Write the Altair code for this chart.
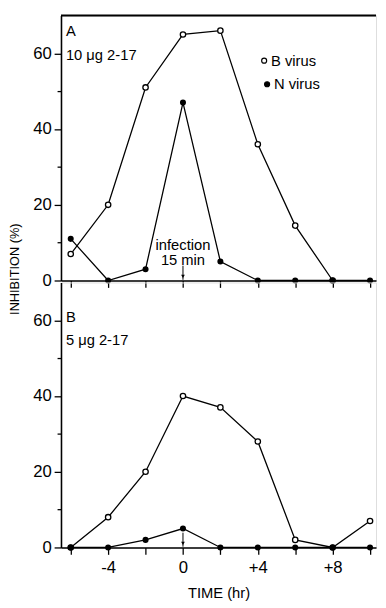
import altair as alt
import pandas as pd

# ---- data ----
time_hr = [-6, -4, -2, 0, 2, 4, 6, 8, 10]
a_b_virus = [7, 20, 51, 65, 66, 36, 14.5, 0, None]
a_n_virus = [11, 0, 3, 47, 5, 0, 0, 0, 0]
b_b_virus = [0, 8, 20, 40, 37, 28, 2, 0, 7]
b_n_virus = [0, 0, 2, 5, 0, 0, 0, 0, 0]
x_ticks = [-6, -4, -2, 0, 2, 4, 6, 8, 10]
y_ticks = [0, 10, 20, 30, 40, 50, 60]
panel_labels = ["A", "B"]
dose_labels = ["10 \u03bcg 2-17", "5 \u03bcg 2-17"]
legend_labels = ["B virus", "N virus"]
infection_text = ["infection", "15 min"]
infection_text_y = [9.3, 5.4]
arrow_a = [3.9, 0.2]
arrow_b = [3.9, 0.2]

FONT = "Liberation Sans"
W, H = 321, 270
XDOM = [-6.52, 10.32]
YDOM = [0, 70]


def make_panel(b_vals, n_vals, plabel, dose, label_y, arrow, is_bottom, legend, infection):
    rows = []
    for t, v in zip(time_hr, b_vals):
        if v is not None:
            rows.append({"t": t, "v": v, "s": "B virus"})
    for t, v in zip(time_hr, n_vals):
        rows.append({"t": t, "v": v, "s": "N virus"})
    df = pd.DataFrame(rows)

    tick_size = {"condition": {"test": "datum.value % 20 === 0", "value": 7}, "value": 4}
    yaxis = alt.Axis(
        values=y_ticks,
        labelExpr="datum.value % 20 === 0 ? datum.label : ''",
        tickSize=tick_size,
        tickColor="black", domainColor="black", domainWidth=1.6, tickWidth=1.3,
        labelFont=FONT, labelFontSize=17, labelColor="black", labelPadding=3,
        grid=False,
        title="INHIBITION (%)" if not is_bottom else None,
        titleFont=FONT, titleFontSize=13, titleFontWeight="normal", titleColor="black",
        titleY=258, titlePadding=11,
    )
    if is_bottom:
        xaxis = alt.Axis(
            values=x_ticks,
            labelExpr="datum.value % 4 === 0 ? (datum.value > 0 ? '+' + datum.value : '' + datum.value) : ''",
            tickSize=7, tickColor="black", domainColor="black", domainWidth=1.6, tickWidth=1.3,
            labelFont=FONT, labelFontSize=17, labelColor="black", labelPadding=6,
            grid=False, title="TIME (hr)", titleFont=FONT, titleFontSize=15,
            titleFontWeight="normal", titleColor="black", titlePadding=10,
        )
    else:
        xaxis = alt.Axis(
            values=x_ticks, labels=False, tickSize=7, tickColor="black",
            domainColor="black", domainWidth=1.6, tickWidth=1.3, grid=False, title=None,
        )

    X = alt.X("t:Q", scale=alt.Scale(domain=XDOM, nice=False, zero=False), axis=xaxis)
    Y = alt.Y("v:Q", scale=alt.Scale(domain=YDOM, nice=False), axis=yaxis)

    base = alt.Chart(df)
    lines = base.mark_line(color="black", strokeWidth=1.3).encode(x=X, y=Y, detail="s:N")
    openpts = base.transform_filter(alt.datum.s == "B virus").mark_point(
        shape="circle", size=30, filled=True, fill="white", stroke="black", strokeWidth=1.3, opacity=1
    ).encode(x=X, y=Y)
    fillpts = base.transform_filter(alt.datum.s == "N virus").mark_point(
        shape="circle", size=38, filled=True, color="black", opacity=1
    ).encode(x=X, y=Y)

    adf = pd.DataFrame({"t": [0], "v": [arrow[0]], "v2": [arrow[1]]})
    arrow_line = alt.Chart(adf).mark_rule(color="black", strokeWidth=1).encode(
        x=X, y=Y, y2="v2:Q")
    hdf = pd.DataFrame({"t": [0], "v": [arrow[1] + 0.9]})
    arrow_head = alt.Chart(hdf).mark_point(
        shape="triangle-down", size=14, filled=True, color="black", opacity=1
    ).encode(x=X, y=Y)

    ldf = pd.DataFrame({"txt": [plabel, dose], "py": label_y})
    labels = alt.Chart(ldf).mark_text(
        align="left", baseline="alphabetic", font=FONT, fontSize=15, color="black"
    ).encode(x=alt.value(5), y=alt.Y("py:Q", scale=None), text="txt:N")

    layers = [lines, arrow_line, arrow_head, openpts, fillpts, labels]

    if not is_bottom:
        frame = alt.Chart(pd.DataFrame({"a": [0]})).mark_rule(color="black", strokeWidth=2).encode(
            x=alt.value(0), x2=alt.value(W), y=alt.value(0))
        layers.append(frame)

    if legend:
        lgdf = pd.DataFrame({"txt": legend_labels, "py": [46, 70], "px": [207, 210],
                             "f": ["white", "black"]})
        lg_pts = alt.Chart(lgdf).mark_point(
            shape="circle", size=26, filled=True, stroke="black", strokeWidth=1.2, opacity=1
        ).encode(x=alt.X("px:Q", scale=None), y=alt.Y("py:Q", scale=None),
                 fill=alt.Fill("f:N", scale=None))
        lg_txt = alt.Chart(lgdf).mark_text(
            align="left", baseline="middle", font=FONT, fontSize=15, color="black", dx=7
        ).encode(x=alt.X("px:Q", scale=None), y=alt.Y("py:Q", scale=None), text="txt:N")
        layers += [lg_pts, lg_txt]

    if infection:
        idf = pd.DataFrame({"t": [0, 0], "v": infection_text_y, "txt": infection_text})
        inf = alt.Chart(idf).mark_text(
            align="center", baseline="middle", font=FONT, fontSize=15, color="black"
        ).encode(x=X, y=Y, text="txt:N")
        layers.append(inf)

    return alt.layer(*layers).properties(width=W, height=H)


panel_a = make_panel(a_b_virus, a_n_virus, panel_labels[0], dose_labels[0], [21, 45],
                     arrow_a, False, True, True)
panel_b = make_panel(b_b_virus, b_n_virus, panel_labels[1], dose_labels[1], [40, 64],
                     arrow_b, True, False, False)

chart = alt.vconcat(panel_a, panel_b, spacing=2, bounds="flush").properties(
    padding=0
).configure_view(stroke=None).configure(background="white")

chart.save("out.html", embed_options={"renderer": "svg", "actions": False})
